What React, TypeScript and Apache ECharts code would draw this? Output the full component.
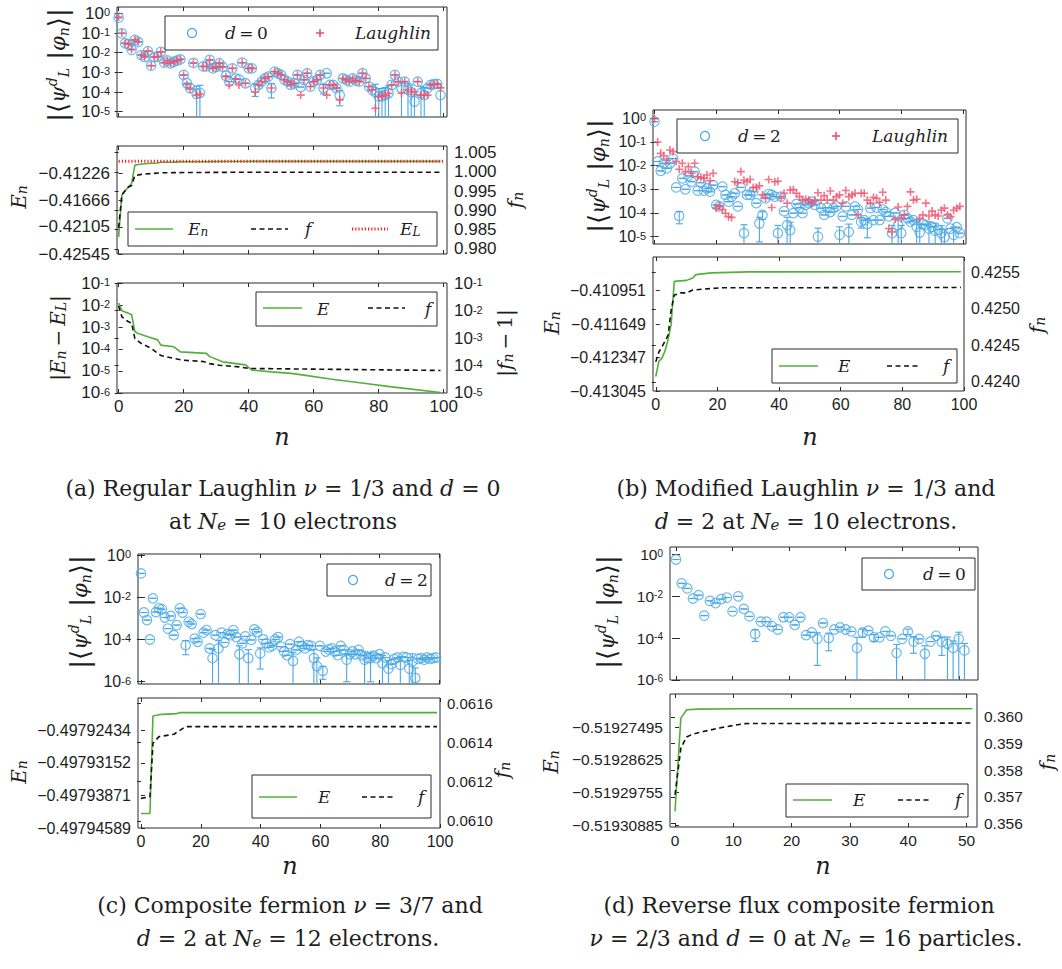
import React, { useEffect, useRef } from 'react';
import * as echarts from 'echarts';

const BLUE = '#48a7e6';
const RED = '#f2506c';
const GREEN = '#52b03a';
const BLACK = '#111111';
const ELRED = '#ff1f1f';
const FRAME = '#2a2a2a';
const TXT = '#1e1e1e';
const SANS = '"Liberation Sans", Arial, sans-serif';
const SERIF = '"DejaVu Serif", "Liberation Serif", "DejaVu Sans", serif';

// ---------------- (a) Regular Laughlin, d = 0 ----------------
const aXTicks = [0, 20, 40, 60, 80, 100];
const aOverlapD0 = [
  0.6, 0.095, 0.03, 0.027, 0.014, 0.045, 0.035, 7.6e-3, 6e-3, 0.012,
  2.2e-3, 6e-3, 6.3e-3, 0.011, 3.1e-3, 4e-3, 2.9e-3, 3.5e-3, 4e-3, 4.6e-3,
  7.4e-4, 2.8e-4, 1.6e-4, 3e-3, 8e-5, 9e-5, 2e-3, 2e-3, 4.3e-3, 1.6e-3,
  1.9e-3, 2.9e-3, 1.9e-3, 6.6e-4, 3.4e-4, 1.6e-3, 4.9e-4, 4.4e-4, 3.1e-3, 2.8e-4,
  1.6e-3, 1.6e-3, 1.6e-4, 2.3e-4, 3.4e-4, 4.9e-4, 6e-4, 1.6e-4, 1.1e-3, 9e-4,
  7.4e-4, 4.2e-4, 3.4e-4, 2.3e-4, 2.8e-4, 7.4e-4, 1.8e-4, 4.2e-4, 9e-4, 1.9e-4,
  3.4e-4, 4.2e-4, 7.4e-4, 1.6e-4, 9e-4, 2.3e-4, 2.3e-4, 1.6e-4, 7e-5, 4.9e-4,
  4.2e-4, 3.4e-4, 4.9e-4, 3.8e-4, 3.4e-4, 9e-4, 4.9e-4, 1.9e-4, 1.3e-4, 1e-4,
  6e-5, 6e-5, 7e-5, 8.7e-5, 2.3e-4, 7.4e-4, 3.4e-4, 1.6e-4, 3.4e-4, 1.3e-4,
  1e-4, 3.3e-5, 3.4e-4, 8.7e-5, 7e-5, 1.6e-4, 2.3e-4, 2.5e-4, 2.6e-4, 7e-5,
];
const aOverlapLaughlin = [
  0.65, 0.1, 0.03, 0.028, 0.015, 0.045, 0.036, 7.6e-3, 6e-3, 0.012,
  2.2e-3, 6e-3, 6.3e-3, 0.011, 3.1e-3, 4e-3, 2.9e-3, 3.5e-3, 4e-3, 4.6e-3,
  7.2e-4, 2.4e-4, 1.4e-4, 3e-3, 7e-5, 8e-5, 2e-3, 2e-3, 4.3e-3, 1.6e-3,
  1.9e-3, 2.9e-3, 1.9e-3, 6e-4, 2.3e-4, 1.6e-3, 4.5e-4, 2.3e-4, 3.1e-3, 2.8e-4,
  1.6e-3, 1.6e-3, 1e-4, 2.3e-4, 3.4e-4, 4.9e-4, 6e-4, 1.6e-4, 1.1e-3, 9e-4,
  7.4e-4, 4.2e-4, 3.4e-4, 2.3e-4, 2.8e-4, 7.4e-4, 7e-5, 4.2e-4, 9e-4, 1.9e-4,
  3.4e-4, 4.2e-4, 7.4e-4, 1.6e-4, 7e-5, 2.3e-4, 2.3e-4, 1.6e-4, 4e-5, 4.9e-4,
  4.2e-4, 3.4e-4, 4.9e-4, 3.8e-4, 3.4e-4, 9e-4, 4.9e-4, 1.9e-4, 1.3e-4, 1.5e-5,
  6e-5, 6e-5, 7e-5, 8.7e-5, 2.3e-4, 7.4e-4, 3.4e-4, 8.7e-5, 3.4e-4, 1.3e-4,
  1e-4, 1e-4, 3.4e-4, 7e-5, 7e-5, 7e-5, 2.3e-4, 2.5e-4, 2.6e-4, 1.6e-4,
];
const aOverlapErr = [
  [24, 1.2e-4], [25, 1.3e-4], [42, 1e-4], [47, 1.1e-4], [63, 8e-5], [68, 5e-5],
  [79, 1.5e-4], [80, 9e-5], [81, 9e-5], [82, 1e-4], [83, 1.2e-4], [87, 1.8e-4],
  [89, 1.5e-4], [90, 1.3e-4], [91, 4e-5], [93, 1.1e-4], [94, 1e-4], [99, 1e-4],
];
const aEL = -0.41036;
const aEdevN = [0, 1, 2, 3, 4, 5, 6, 9, 12, 13, 17, 19, 27, 28, 32, 39, 41, 47, 53, 57, 65, 76, 84, 99];
const aEdev = [0.0123, 5.5e-3, 4.8e-3, 4.2e-3, 3.6e-3, 6.2e-4, 5.1e-4, 3.6e-4, 2.6e-4, 1.5e-4, 1.26e-4, 7.4e-5,
  6.3e-5, 4.5e-5, 2.6e-5, 1.9e-5, 1.1e-5, 9.1e-6, 7.8e-6, 6.5e-6, 4.3e-6, 2.7e-6, 1.9e-6, 1.05e-6];
const aFdevN = [0, 1, 3, 4, 5, 7, 10, 13, 17, 20, 26, 28, 31, 37, 40, 99];
const aFdev = [0.0145, 5.9e-3, 3.9e-3, 3.5e-3, 9.5e-4, 6.3e-4, 4.2e-4, 2.3e-4, 1.8e-4, 1.55e-4, 1.4e-4, 1.17e-4,
  1.02e-4, 8.9e-5, 7.8e-5, 6.6e-5];
const aEnTicks = [-0.42545, -0.42105, -0.41666, -0.41226];
const aFnTicks = [0.98, 0.985, 0.99, 0.995, 1.0, 1.005];

// ---------------- (b) Modified Laughlin, d = 2 ----------------
const bOverlapD2 = [
  0.72, 0.015, 6e-3, 0.0125, 7.7e-3, 0.0125, 0.02, 1.2e-3, 7.5e-5, 2.9e-3,
  1e-3, 3.7e-3, 2.1e-3, 5.6e-3, 8.8e-4, 1.9e-3, 8.8e-4, 1.1e-3, 7.9e-4, 1.5e-3,
  2.2e-4, 1.9e-4, 1.3e-3, 5.8e-4, 3e-4, 4.9e-4, 6.8e-4, 1.9e-4, 1.2e-3, 1.4e-5,
  5.8e-4, 5.8e-4, 7.9e-4, 2.6e-4, 3.6e-5, 8.3e-5, 4.2e-4, 6.3e-4, 5.8e-4, 4.9e-4,
  1.4e-5, 4.9e-4, 1.2e-4, 3.1e-5, 1.9e-5, 9.8e-5, 2.4e-4, 1.7e-4, 9.8e-5, 2.2e-4,
  2.6e-4, 3e-4, 2.2e-4, 1e-5, 1.6e-4, 8.3e-5, 1.7e-4, 1.1e-4, 1.6e-4, 1.9e-4,
  1.2e-5, 7.2e-5, 1.9e-4, 1.6e-5, 8.3e-5, 1.9e-4, 1.4e-4, 4.3e-5, 5e-5, 3.4e-5,
  1.6e-4, 5e-5, 1.7e-4, 5e-5, 1.4e-4, 1.1e-4, 7.2e-5, 1.4e-5, 1e-4, 3.1e-5,
  1.4e-5, 8.3e-5, 5.9e-5, 4.3e-5, 5e-5, 2.6e-5, 1.5e-5, 3.4e-5, 3.1e-5, 2.2e-5,
  2.6e-5, 1.8e-5, 2e-5, 1.4e-5, 9.5e-6, 5.9e-5, 2.2e-5, 1.2e-5, 2.5e-5, 1.4e-5,
];
const bOverlapLaughlin = [
  0.95, 0.1, 0.033, 0.026, 0.017, 0.046, 0.039, 0.015, 7e-3, 0.0126,
  5.6e-3, 9.1e-3, 4.8e-3, 0.0126, 3.4e-3, 3.2e-3, 2.9e-3, 4e-3, 2.3e-3, 4.8e-3,
  1.6e-4, 2e-4, 1.4e-4, 9.7e-5, 7e-5, 6.5e-5, 2.1e-3, 1.9e-3, 5.6e-3, 2.4e-3,
  2.1e-3, 2.6e-3, 1.2e-3, 1.2e-3, 1.4e-3, 5.8e-4, 4.2e-4, 2.6e-3, 1.7e-4, 2.1e-3,
  2.2e-3, 4.2e-4, 6.8e-4, 2.6e-4, 9.4e-4, 9.7e-4, 6.8e-4, 4.9e-4, 3.5e-4, 3.8e-4,
  3.5e-4, 2.6e-4, 3.5e-4, 7.2e-4, 3.5e-4, 5.4e-4, 3.5e-4, 8.5e-4, 3.5e-4, 4.9e-4,
  5.8e-4, 2.6e-4, 8.9e-4, 4.9e-4, 5.8e-4, 6.8e-4, 8.3e-5, 6.8e-4, 6.8e-4, 3.5e-4,
  2.6e-4, 4.5e-4, 4.2e-4, 2.8e-4, 7.5e-4, 3.5e-4, 2.2e-5, 1.6e-5, 5.4e-5, 1.8e-4,
  5.9e-5, 8.3e-5, 1.9e-4, 7.8e-4, 3.5e-4, 3.8e-4, 5.9e-5, 8.3e-5, 2.6e-4, 7.5e-5,
  1.2e-4, 8.3e-5, 7.5e-5, 1.3e-4, 1.6e-4, 8.3e-5, 7e-5, 1.3e-4, 1.6e-4, 1.9e-4,
];
const bOverlapErr = [
  [8, 4e-5], [29, 1.8e-5], [34, 3e-5], [35, 3e-5], [40, 1.6e-5], [43, 3.5e-5], [44, 2.2e-5],
  [53, 1.3e-5], [60, 1.4e-5], [63, 1.8e-5], [67, 2e-5], [69, 2.5e-5], [77, 1.6e-5], [79, 3e-5],
  [80, 1.6e-5], [85, 2.5e-5], [86, 1.7e-5], [89, 2e-5], [91, 1.9e-5], [93, 1.5e-5], [94, 1.1e-5], [97, 1.3e-5],
];
const bEnN = [0, 1, 2, 3, 4, 5, 6, 10, 12, 13, 18, 30, 99];
const bEn = [-0.412743, -0.412427, -0.41236, -0.41221, -0.41197, -0.41165, -0.41076, -0.41074, -0.41069,
  -0.41062, -0.410584, -0.410563, -0.41056];
const bFnN = [0, 1, 2, 4, 5, 6, 8, 10, 12, 21, 99];
const bFn = [0.424275, 0.42441, 0.42448, 0.42464, 0.42499, 0.42519, 0.42522, 0.42522, 0.42526, 0.42529, 0.425294];
const bEnTicks = [-0.413045, -0.412347, -0.411649, -0.410951];
const bFnTicks = [0.424, 0.4245, 0.425, 0.4255];

// ---------------- (c) Composite fermion nu = 3/7, d = 2 ----------------
const cOverlapD2 = [
  0.135, 1.9e-3, 8.3e-4, 1e-4, 8.9e-3, 2e-3, 3e-3, 2.7e-3, 1.1e-3, 3.3e-4,
  1.3e-3, 1.6e-4, 4.8e-4, 3e-3, 1.9e-3, 5.4e-5, 6.9e-4, 5.4e-4, 1.1e-4, 7.8e-5,
  1.6e-3, 2.1e-4, 2.8e-4, 3.8e-5, 1.3e-5, 1.6e-4, 3.8e-5, 2.1e-4, 7.2e-5, 1.8e-4,
  1.6e-4, 2.8e-4, 1.3e-4, 2e-5, 6.6e-5, 1.4e-4, 1.3e-5, 9.5e-5, 3e-4, 2.3e-4,
  2.2e-5, 1e-4, 6.6e-5, 4.2e-5, 5e-5, 1e-4, 1.3e-4, 4.6e-5, 2.7e-5, 1.8e-5,
  6e-5, 9.7e-6, 3.2e-5, 7.8e-5, 5e-5, 3.8e-5, 5.4e-5, 5e-5, 1.3e-5, 5.5e-6,
  5e-5, 3.3e-6, 2.7e-5, 3.4e-5, 3.8e-5, 2.7e-5, 1.8e-5, 5e-5, 3.2e-5, 1.1e-5,
  2e-5, 2.7e-5, 2e-5, 3.2e-5, 1.8e-5, 1.1e-5, 1.3e-5, 1.3e-5, 1.7e-5, 1.3e-5,
  2e-5, 7.4e-6, 1.4e-5, 4.2e-6, 6.8e-6, 1.2e-5, 1.4e-5, 6.3e-6, 1.5e-5, 1.4e-5,
  4.2e-6, 8.8e-6, 1.5e-6, 1.2e-5, 1.3e-5, 1.1e-5, 1.4e-5, 1.2e-5, 1.3e-5, 1.4e-5,
];
const cOverlapErr = [
  [15, 3.5e-5], [24, 2e-5], [26, 5e-5], [33, 3e-5], [36, 2e-5], [40, 1.8e-5], [51, 1.5e-5],
  [58, 2e-5], [59, 8e-6], [61, 2e-6], [69, 1e-5], [75, 1.5e-5], [77, 1.2e-5], [81, 1e-5],
  [83, 6e-6], [87, 9e-6], [90, 6e-6], [91, 1.2e-5], [92, 3e-6],
];
const cEnN = [0, 3, 4, 7, 12, 13, 99];
const cEn = [-0.4979427, -0.4979427, -0.49792115, -0.49792077, -0.49792061, -0.49792039, -0.49792039];
const cFnN = [0, 3, 4, 6, 11, 14, 15, 99];
const cFn = [0.061115, 0.061123, 0.061396, 0.06143, 0.061442, 0.061472, 0.061481, 0.061481];
const cEnTicks = [-0.49794589, -0.49793871, -0.49793152, -0.49792434];
const cFnTicks = [0.061, 0.0612, 0.0614, 0.0616];

// ---------------- (d) Reverse flux CF nu = 2/3, d = 0 ----------------
const dXTicks = [0, 10, 20, 30, 40, 50];
const dOverlapD0 = [
  0.58, 0.042, 0.024, 7.9e-3, 0.0114, 1.2e-3, 6.1e-3, 4.8e-3, 7.4e-3, 8.8e-3,
  1.9e-3, 0.01, 2.5e-3, 1.1e-3, 1.6e-4, 6.2e-4, 6.2e-4, 3.7e-4, 2.6e-4, 1e-3,
  1e-3, 4.3e-4, 1e-3, 1.4e-4, 1.9e-4, 9.3e-5, 5.3e-4, 1e-4, 2.6e-4, 3.3e-4,
  2.6e-4, 2.1e-4, 3.4e-5, 1.9e-4, 2.3e-4, 1.1e-4, 1.1e-4, 2.1e-4, 1.3e-4, 2e-5,
  9.3e-5, 2.1e-4, 6.9e-5, 9.3e-5, 1.8e-5, 6.9e-5, 1.3e-4, 6.5e-5, 5.4e-5, 3.4e-5,
  9.3e-5, 2.6e-5,
];
const dOverlapErr = [
  [14, 9e-5], [25, 8.8e-5], [27, 7.5e-5], [32, 7.6e-5], [33, 8e-5], [35, 4e-5], [39, 3e-5],
  [41, 6e-5], [42, 5e-5], [44, 2.5e-5], [47, 5e-5], [48, 6e-5], [49, 4e-5], [50, 1e-4], [51, 3e-5],
];
const dEnN = [0, 1, 2, 4, 11, 51];
const dEn = [-0.51930396, -0.51927183, -0.51926895, -0.51926871, -0.51926861, -0.5192686];
const dFnN = [0, 1, 2, 3, 5, 8, 10, 12, 51];
const dFn = [0.35708, 0.35883, 0.35925, 0.35935, 0.35946, 0.3596, 0.35968, 0.35975, 0.35977];
const dEnTicks = [-0.51930885, -0.51929755, -0.51928625, -0.51927495];
const dFnTicks = [0.356, 0.357, 0.358, 0.359, 0.36];

const logTicks5 = [1e-5, 1e-4, 1e-3, 1e-2, 1e-1, 1];
const logTicks6 = [1e-6, 1e-4, 1e-2, 1];
const logTicksE = [1e-6, 1e-5, 1e-4, 1e-3, 1e-2, 1e-1];
const logTicksF = [1e-5, 1e-4, 1e-3, 1e-2, 1e-1];

// ---------------- helpers ----------------
const zip = (ns: number[], vs: number[]) => ns.map((n, i) => [n, vs[i]]);
const minusFmt = (d: number) => (v: number) => v.toFixed(d).replace('-', '\u2212');
const logFmt = (v: number) => {
  const e = v > 0 ? Math.round(Math.log10(v)) : Math.round(v);
  return `{b|10}{s|${e}}`;
};
// compact label boxes (so that densely packed decade labels are never dropped)
const logRich = (fs: number) => ({
  b: { fontFamily: SANS, fontSize: fs, lineHeight: 13, verticalAlign: 'middle', color: TXT },
  s: { fontFamily: SANS, fontSize: Math.round(fs * 0.66), lineHeight: 1, verticalAlign: 'top', color: TXT },
});

function xAxisDef(gi: number, min: number, max: number, ticks: number[], labels: boolean, position: string, fs: number) {
  return {
    type: 'value', gridIndex: gi, position, min, max,
    axisLine: { show: false },
    axisTick: { show: true, inside: true, length: 4, customValues: ticks, lineStyle: { color: FRAME, width: 1 } },
    axisLabel: {
      show: labels, customValues: ticks, margin: 5, color: TXT, fontFamily: SANS, fontSize: fs,
      hideOverlap: false, showMinLabel: true, showMaxLabel: true,
    },
    splitLine: { show: false },
  };
}
function yAxisDef(gi: number, position: string, type: string, min: number, max: number, ticks: number[], fmt: any, fs: number) {
  const isLog = type === 'log';
  return {
    type, logBase: 10, gridIndex: gi, position, min, max,
    axisLine: { show: false },
    axisTick: { show: true, inside: true, length: 4, customValues: ticks, lineStyle: { color: FRAME, width: 1 } },
    axisLabel: fmt
      ? {
        show: true, customValues: ticks, margin: 7, color: TXT, fontFamily: SANS, fontSize: fs, hideOverlap: false,
        showMinLabel: true, showMaxLabel: true, lineHeight: 13,
        formatter: fmt, rich: isLog ? logRich(fs) : undefined,
      }
      : { show: false },
    splitLine: { show: false },
  };
}

const errRender = (color: string) => (params: any, api: any) => {
  const n = api.value(0);
  const v = api.value(1);
  const e = api.value(2);
  const cs = params.coordSys;
  const top = cs.y;
  const bot = cs.y + cs.height;
  const c = api.coord([n, v]);
  const x = c[0];
  const hiY = api.coord([n, v + e])[1];
  const lowV = v - e;
  let loY = lowV > 0 ? api.coord([n, lowV])[1] : Infinity;
  const loCap = isFinite(loY) && loY <= bot;
  if (!(loY <= bot)) loY = bot;
  const y1 = Math.max(top, hiY);
  const st = { stroke: color, lineWidth: 1.1 };
  const ch: any[] = [];
  if (loY - y1 > 0.5) ch.push({ type: 'line', shape: { x1: x, y1, x2: x, y2: loY }, style: st });
  const cw = 3.5;
  if (hiY >= top) ch.push({ type: 'line', shape: { x1: x - cw, y1: hiY, x2: x + cw, y2: hiY }, style: st });
  if (loCap) ch.push({ type: 'line', shape: { x1: x - cw, y1: loY, x2: x + cw, y2: loY }, style: st });
  return { type: 'group', children: ch };
};

const PLUS = 'path://M4,0H6V4H10V6H6V10H4V6H0V4H4Z';

function mathRich(s: number) {
  const sb = Math.round(s * 0.7);
  return {
    g: { fontFamily: SERIF, fontStyle: 'italic', fontSize: s, lineHeight: s, verticalAlign: 'top', color: TXT },
    r: { fontFamily: SERIF, fontSize: s, lineHeight: s, verticalAlign: 'top', color: TXT },
    sub: { fontFamily: SERIF, fontStyle: 'italic', fontSize: sb, lineHeight: sb, padding: [Math.round(s * 0.5), 0, 0, 0], verticalAlign: 'bottom', color: TXT },
  };
}
const capRich = {
  t: { fontFamily: SERIF, fontSize: 22, lineHeight: 22, verticalAlign: 'top', color: TXT },
  m: { fontFamily: SERIF, fontStyle: 'italic', fontSize: 22, lineHeight: 22, verticalAlign: 'top', color: TXT },
  sub: { fontFamily: SERIF, fontStyle: 'italic', fontSize: 15, lineHeight: 15, padding: [10, 0, 0, 0], verticalAlign: 'bottom', color: TXT },
};
const psiRich = {
  d: { fontFamily: SERIF, fontSize: 26, lineHeight: 30, verticalAlign: 'middle', color: TXT },
  g: { fontFamily: SERIF, fontStyle: 'italic', fontSize: 21, lineHeight: 21, verticalAlign: 'middle', color: TXT },
  sup: { fontFamily: SERIF, fontStyle: 'italic', fontSize: 14, lineHeight: 14, padding: [2, 0, 0, 0], verticalAlign: 'top', color: TXT },
  sub: { fontFamily: SERIF, fontStyle: 'italic', fontSize: 14, lineHeight: 14, padding: [0, 0, 2, 0], verticalAlign: 'bottom', color: TXT },
};
const PSI = '{d||\u27E8}{g|\u03C8}{sup|d}{sub|L}{d| |}{g|\u03C6}{sub|n}{d|\u27E9|}';

function text(x: number, y: number, t: string, rich: any, align = 'left', rot = 0) {
  return {
    type: 'text', x, y, rotation: rot, z: 110, silent: true,
    style: { text: t, rich, align, verticalAlign: 'middle', fill: TXT, fontFamily: SERIF, fontSize: 16 },
  };
}
function box(x: number, y: number, w: number, h: number) {
  return { type: 'rect', z: 100, silent: true, shape: { x, y, width: w, height: h }, style: { fill: '#fff', stroke: FRAME, lineWidth: 1 } };
}
function seg(x1: number, x2: number, y: number, stroke: string, lineWidth: number, lineDash?: number[]) {
  return { type: 'line', z: 105, silent: true, shape: { x1, y1: y, x2, y2: y }, style: { stroke, lineWidth, lineDash } };
}
function ring(cx: number, cy: number) {
  return { type: 'circle', z: 105, silent: true, shape: { cx, cy, r: 4.5 }, style: { fill: 'none', stroke: BLUE, lineWidth: 1.2 } };
}
function plus(cx: number, cy: number) {
  return [
    { type: 'line', z: 105, silent: true, shape: { x1: cx - 4, y1: cy, x2: cx + 4, y2: cy }, style: { stroke: RED, lineWidth: 1.6 } },
    { type: 'line', z: 105, silent: true, shape: { x1: cx, y1: cy - 4, x2: cx, y2: cy + 4 }, style: { stroke: RED, lineWidth: 1.6 } },
  ];
}

function buildOption() {
  const grids = [
    { left: 117, top: 7, width: 330, height: 110 },
    { left: 117, top: 146, width: 330, height: 108 },
    { left: 117, top: 283, width: 330, height: 110 },
    { left: 653, top: 110, width: 313, height: 134 },
    { left: 653, top: 257, width: 311, height: 134 },
    { left: 138, top: 554, width: 302, height: 130 },
    { left: 138, top: 698, width: 302, height: 130 },
    { left: 670, top: 547, width: 308, height: 133 },
    { left: 670, top: 694, width: 307, height: 133 },
  ].map((g) => ({ ...g, show: true, borderColor: FRAME, borderWidth: 1, backgroundColor: 'transparent', containLabel: false, outerBoundsMode: 'none' }));

  // tick-label font sizes per panel (sub-figures are scaled differently)
  const FA = 17, FB = 16, FC = 16, FD = 15.5;
  const fsx = [FA, FA, FA, FB, FB, FC, FC, FD, FD];
  const xr = [[-0.5, 101], [-0.5, 101], [-0.5, 101], [-0.5, 101], [-0.9, 100], [-1, 100.3], [-1, 100], [-1.06, 53.4], [-0.86, 51.8]];
  const xLabels = [false, false, true, false, true, false, true, false, true];
  const xTicks = [aXTicks, aXTicks, aXTicks, aXTicks, aXTicks, aXTicks, aXTicks, dXTicks, dXTicks];
  const xAxis: any[] = [];
  for (let i = 0; i < 9; i++) {
    xAxis.push(xAxisDef(i, xr[i][0], xr[i][1], xTicks[i], xLabels[i], 'bottom', fsx[i]));
    xAxis.push(xAxisDef(i, xr[i][0], xr[i][1], xTicks[i], false, 'top', fsx[i]));
  }
  const yAxis: any[] = [
    yAxisDef(0, 'left', 'log', 5.4e-6, 2.1, logTicks5, logFmt, FA),
    yAxisDef(0, 'right', 'log', 5.4e-6, 2.1, logTicks5, null, FA),
    yAxisDef(1, 'left', 'value', -0.42545, -0.40786, aEnTicks, minusFmt(5), FA),
    yAxisDef(1, 'right', 'value', 0.9787, 1.00674, aFnTicks, minusFmt(3), FA),
    yAxisDef(2, 'left', 'log', 0.999e-6, 0.1001, logTicksE, logFmt, FA),
    yAxisDef(2, 'right', 'log', 0.999e-5, 0.1001, logTicksF, logFmt, FA),
    yAxisDef(3, 'left', 'log', 4.9e-6, 2.24, logTicks5, logFmt, FB),
    yAxisDef(3, 'right', 'log', 4.9e-6, 2.24, logTicks5, null, FB),
    yAxisDef(4, 'left', 'value', -0.413045, -0.410253, bEnTicks, minusFmt(6), FB),
    yAxisDef(4, 'right', 'value', 0.423876, 0.425712, bFnTicks, minusFmt(4), FB),
    yAxisDef(5, 'left', 'log', 7.8e-7, 1.12, logTicks6, logFmt, FC),
    yAxisDef(5, 'right', 'log', 7.8e-7, 1.12, logTicks6, null, FC),
    yAxisDef(6, 'left', 'value', -0.49794589, -0.49791716, cEnTicks, minusFmt(8), FC),
    yAxisDef(6, 'right', 'value', 0.060964, 0.061627, cFnTicks, minusFmt(4), 15),
    yAxisDef(7, 'left', 'log', 0.999e-6, 2.3, logTicks6, logFmt, FD),
    yAxisDef(7, 'right', 'log', 0.999e-6, 2.3, logTicks6, null, FD),
    yAxisDef(8, 'left', 'value', -0.5193094, -0.5192635, dEnTicks, minusFmt(8), FD),
    yAxisDef(8, 'right', 'value', 0.35587, 0.36086, dFnTicks, minusFmt(3), FD),
  ];

  const series: any[] = [];
  const circles = (gi: number, vals: number[], errs: number[][]) => {
    const em = new Map(errs.map(([n, e]) => [n, e]));
    series.push({
      type: 'scatter', xAxisIndex: 2 * gi, yAxisIndex: 2 * gi, silent: true, z: 2,
      data: vals.map((v, n) => [n, v]), symbol: 'circle', symbolSize: 9.5,
      itemStyle: { color: 'rgba(0,0,0,0)', borderColor: BLUE, borderWidth: 1.2 },
    });
    series.push({
      type: 'custom', xAxisIndex: 2 * gi, yAxisIndex: 2 * gi, silent: true, z: 3,
      data: vals.map((v, n) => [n, v, em.get(n) ?? 0]), encode: { x: 0, y: 1 },
      renderItem: errRender(BLUE),
    });
  };
  const pluses = (gi: number, vals: number[]) => {
    series.push({
      type: 'scatter', xAxisIndex: 2 * gi, yAxisIndex: 2 * gi, silent: true, z: 4,
      data: vals.map((v, n) => [n, v]), symbol: PLUS, symbolSize: 8,
      itemStyle: { color: RED },
    });
  };
  const line = (gi: number, right: boolean, data: number[][], color: string, width: number, type: any) => {
    series.push({
      type: 'line', xAxisIndex: 2 * gi, yAxisIndex: 2 * gi + (right ? 1 : 0), silent: true, z: 5,
      data, showSymbol: false, symbol: 'none', lineStyle: { color, width, type },
    });
  };

  // (a)
  circles(0, aOverlapD0, aOverlapErr);
  pluses(0, aOverlapLaughlin);
  line(1, false, aEdevN.map((n, i) => [n, aEL - aEdev[i]]), GREEN, 1.6, 'solid');
  line(1, true, aFdevN.map((n, i) => [n, 1 - aFdev[i]]), BLACK, 1.6, [5, 3.5]);
  line(1, false, [[0, aEL], [100, aEL]], ELRED, 3, [1.2, 2]);
  line(2, false, zip(aEdevN, aEdev), GREEN, 1.6, 'solid');
  line(2, true, zip(aFdevN, aFdev), BLACK, 1.6, [5, 3.5]);
  // (b)
  circles(3, bOverlapD2, bOverlapErr);
  pluses(3, bOverlapLaughlin);
  line(4, false, zip(bEnN, bEn), GREEN, 1.6, 'solid');
  line(4, true, zip(bFnN, bFn), BLACK, 1.6, [5, 3.5]);
  // (c)
  circles(5, cOverlapD2, cOverlapErr);
  line(6, false, zip(cEnN, cEn), GREEN, 1.6, 'solid');
  line(6, true, zip(cFnN, cFn), BLACK, 1.6, [5, 3.5]);
  // (d)
  circles(7, dOverlapD0, dOverlapErr);
  line(8, false, zip(dEnN, dEn), GREEN, 1.6, 'solid');
  line(8, true, zip(dFnN, dFn), BLACK, 1.6, [5, 3.5]);

  const R17 = mathRich(17);
  const R20 = mathRich(20);
  const R24 = mathRich(24);
  const V = Math.PI / 2;
  const el: any[] = [
    // legends (a)
    box(165, 16, 273, 34), ring(192, 33), text(225, 33, '{g|d}{r|\u2009=\u20090}', R17), ...plus(320, 33), text(355, 33, '{g|Laughlin}', R17),
    box(128, 212, 309, 34),
    seg(135, 173, 229, GREEN, 1.6), text(188, 229, '{g|E}{sub|n}', R17),
    seg(251, 288, 229, BLACK, 1.6, [5, 3.5]), text(305, 229, '{g|f}', R17),
    seg(352, 388, 229, ELRED, 3, [1.2, 2]), text(400, 229, '{g|E}{sub|L}', R17),
    box(256, 292, 181, 34),
    seg(263, 302, 308, GREEN, 1.6), text(317, 309, '{g|E}', R17),
    seg(368, 405, 308, BLACK, 1.6, [5, 3.5]), text(425, 309, '{g|f}', R17),
    // legends (b)
    box(677, 119, 281, 34), ring(705, 136), text(738, 136, '{g|d}{r|\u2009=\u20092}', R17), ...plus(836, 136), text(872, 136, '{g|Laughlin}', R17),
    box(772, 349, 185, 34),
    seg(779, 818, 366, GREEN, 1.6), text(838, 366, '{g|E}', R17),
    seg(887, 920, 366, BLACK, 1.6, [5, 3.5]), text(943, 366, '{g|f}', R17),
    // legends (c)
    box(327, 564, 104, 32), ring(353, 580), text(385, 580, '{g|d}{r|\u2009=\u20092}', R17),
    box(252, 775, 179, 43),
    seg(259, 297, 797, GREEN, 1.6), text(318, 797, '{g|E}', R17),
    seg(362, 395, 797, BLACK, 1.6, [5, 3.5]), text(418, 797, '{g|f}', R17),
    // legends (d)
    box(862, 558, 113, 32), ring(889, 574), text(923, 574, '{g|d}{r|\u2009=\u20090}', R17),
    box(786, 784, 182, 33),
    seg(793, 832, 800, GREEN, 1.6), text(853, 800, '{g|E}', R17),
    seg(898, 932, 800, BLACK, 1.6, [5, 3.5]), text(955, 800, '{g|f}', R17),
    // axis titles
    text(58, 65, PSI, psiRich, 'center', V),
    text(19, 197, '{g|E}{sub|n}', R20, 'center', V),
    text(515, 200, '{g|f}{sub|n}', R20, 'center', V),
    text(58, 338, '{g||E}{sub|n}{r|\u2009\u2212\u2009}{g|E}{sub|L}{g||}', R20, 'center', V),
    text(505, 343, '{g||f}{sub|n}{r|\u2009\u2212\u20091|}', R20, 'center', V),
    text(282, 437, '{g|n}', R24, 'center'),
    text(598, 176, PSI, psiRich, 'center', V),
    text(552, 323, '{g|E}{sub|n}', R20, 'center', V),
    text(1037, 325, '{g|f}{sub|n}', R20, 'center', V),
    text(810, 437, '{g|n}', R24, 'center'),
    text(80, 612, PSI, psiRich, 'center', V),
    text(19, 772, '{g|E}{sub|n}', R20, 'center', V),
    text(502, 770, '{g|f}{sub|n}', R20, 'center', V),
    text(290, 866, '{g|n}', R24, 'center'),
    text(607, 612, PSI, psiRich, 'center', V),
    text(551, 762, '{g|E}{sub|n}', R20, 'center', V),
    text(1047, 762, '{g|f}{sub|n}', R20, 'center', V),
    text(823, 866, '{g|n}', R24, 'center'),
    // captions
    text(283, 488, '{t|(a) Regular Laughlin }{m|\u03BD}{t| = 1/3 and }{m|d}{t| = 0}', capRich, 'center'),
    text(283, 521, '{t|at }{m|N}{sub|e}{t| = 10 electrons}', capRich, 'center'),
    text(806, 488, '{t|(b) Modified Laughlin }{m|\u03BD}{t| = 1/3 and}', capRich, 'center'),
    text(806, 521, '{m|d}{t| = 2 at }{m|N}{sub|e}{t| = 10 electrons.}', capRich, 'center'),
    text(290, 905, '{t|(c) Composite fermion }{m|\u03BD}{t| = 3/7 and}', capRich, 'center'),
    text(288, 938, '{m|d}{t| = 2 at }{m|N}{sub|e}{t| = 12 electrons.}', capRich, 'center'),
    text(799, 905, '{t|(d) Reverse flux composite fermion}', capRich, 'center'),
    text(806, 938, '{m|\u03BD}{t| = 2/3 and }{m|d}{t| = 0 at }{m|N}{sub|e}{t| = 16 particles.}', capRich, 'center'),
  ];

  return {
    animation: false,
    backgroundColor: '#ffffff',
    grid: grids,
    xAxis,
    yAxis,
    series,
    graphic: { elements: el },
  };
}

export default function App() {
  const ref = useRef<HTMLDivElement>(null);
  useEffect(() => {
    if (!ref.current) return;
    const chart = echarts.init(ref.current, undefined, { renderer: 'svg' });
    chart.setOption(buildOption() as any);
    return () => chart.dispose();
  }, []);
  return (
    <div
      ref={ref}
      style={{ position: 'fixed', left: 0, top: 0, width: '1062px', height: '969px', background: '#fff' }}
    />
  );
}
